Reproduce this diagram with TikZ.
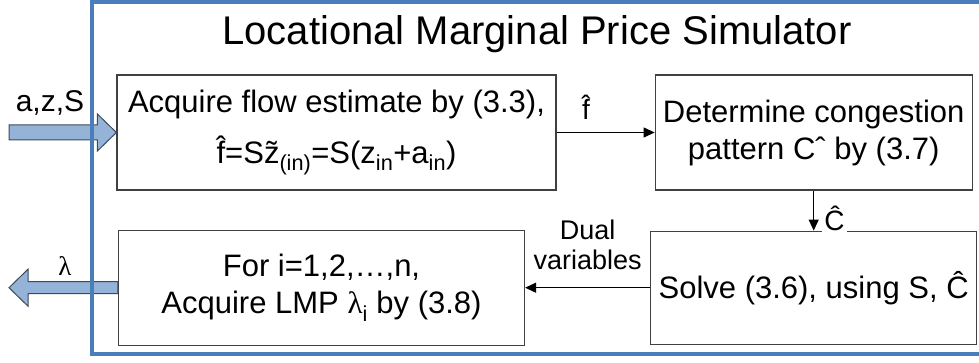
\documentclass[tikz,border=0pt]{standalone}
\usepackage{fontspec}
\setmainfont{Liberation Sans}
\newfontfamily\lamfont{Liberation Serif}
\usetikzlibrary{positioning,arrows.meta,calc}
\definecolor{framecol}{HTML}{4A7EBB}
\definecolor{fatfill}{HTML}{95B3D7}
\definecolor{fatline}{HTML}{3C4A5A}
\definecolor{boxline}{HTML}{404040}
\newcommand{\boxfont}{\fontsize{31}{37}\selectfont}
\newcommand{\lblfont}{\fontsize{28}{30}\selectfont}
\tikzset{
  procbox/.style={draw=boxline, line width=1.2pt, align=center, minimum height=115pt, inner sep=0pt, font=\boxfont},
  arrow/.style={-{Triangle[length=11pt,width=10pt]}, line width=1.2pt},
  fatarrow/.style={fill=fatfill, draw=fatline, line width=1pt},
  lbl/.style={font=\lblfont, inner sep=2pt}
}
\begin{document}
\begin{tikzpicture}[x=1pt,y=-1pt]
  \useasboundingbox (0,0) rectangle (979,363);
  \clip (0,0) rectangle (979,363);
  \node[font=\fontsize{40}{44}\selectfont, anchor=base] (title) at (537,45) {Locational Marginal Price Simulator};
  % process blocks
  \node[procbox, minimum width=439pt] (acq) at (336.5,132.5) {Acquire flow estimate by (3.3),\\[14pt]\^{f}=S\~{z}\textsubscript{(in)}=S(z\textsubscript{in}+a\textsubscript{in})};
  \node[procbox, minimum width=317pt, right=98pt of acq] (cong) {Determine congestion\\pattern Cˆ by (3.7)};
  \node[procbox, minimum width=326pt, minimum height=113pt, below=40pt of cong] (solve) {Solve (3.6), using S, \^{C}};
  \node[procbox, minimum width=406pt, left=125pt of solve] (lmp) {For i=1,2,…,n,\\Acquire LMP {\lamfont λ}\textsubscript{i} by (3.8)};
  \draw[arrow] (acq) -- node[lbl, above=10pt, pos=0.3] (fhat) {\^{f}} (cong);
  \draw[arrow] (cong) -- node[lbl, right=8pt, pos=0.7, fill=white] (chat) {\^{C}} (solve);
  \draw[arrow] (solve) -- node[lbl, above=15pt, align=center, font=\fontsize{27}{30}\selectfont] (dual) {Dual\\variables} (lmp);
  % input and output
  \coordinate (in) at (9,132.5);
  \coordinate (out) at (9,286.5);
  \draw[fatarrow] let \p1=(in), \p2=(acq.west) in
    (\x1,\y1+7.5pt) -- (\x2-19pt,\y1+7.5pt) -- (\x2-19pt,\y1+18.5pt) -- (\x2,\y1)
    -- (\x2-19pt,\y1-18.5pt) -- (\x2-19pt,\y1-7.5pt) -- (\x1,\y1-7.5pt) -- cycle;
  \draw[fatarrow] let \p1=(lmp.west), \p2=(out) in
    (\x1,\y1+6pt) -- (\x2+19pt,\y1+6pt) -- (\x2+19pt,\y1+18.5pt) -- (\x2,\y1)
    -- (\x2+19pt,\y1-18.5pt) -- (\x2+19pt,\y1-6pt) -- (\x1,\y1-6pt) -- cycle;
  \node[font=\fontsize{30}{34}\selectfont, anchor=base] (azs) at (50,112) {a,z,S};
  \node[font=\lamfont\fontsize{27}{30}\selectfont, anchor=base] (lam) at (65,275) {λ};
  % simulator frame
  \draw[framecol, line width=4pt] (92,2.5) rectangle (990,354);
\end{tikzpicture}
\end{document}
